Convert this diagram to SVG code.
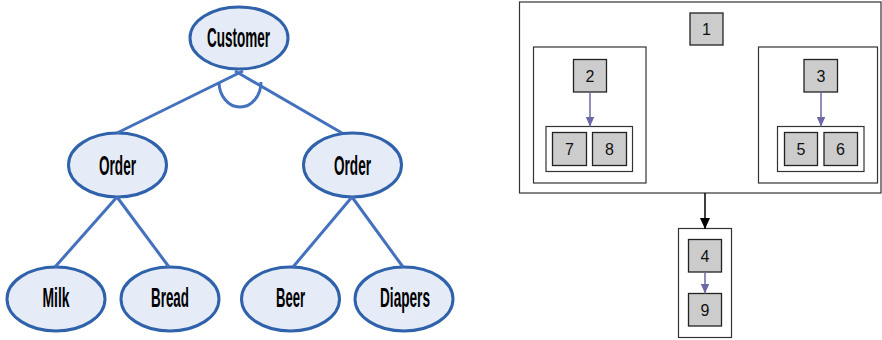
<svg xmlns="http://www.w3.org/2000/svg" width="882" height="340" viewBox="0 0 882 340">
<style>
.ell{fill:#e6ecf7;stroke:#2f62aa;stroke-width:3}
.lnk{fill:none;stroke:#4471bd;stroke-width:3}
.lbl{font-family:"Liberation Sans Narrow","Liberation Sans",Arial,sans-serif;font-weight:bold;font-size:27px;fill:#000;text-anchor:middle}
.box{fill:#cccccc;stroke:#222;stroke-width:1.3}
.cont{fill:#fff;stroke:#333;stroke-width:1.2}
.num{font-family:"Liberation Sans",Arial,sans-serif;font-size:16px;fill:#111;text-anchor:middle}
.parr{stroke:#6b68a6;stroke-width:1.5;fill:none}
</style>
<defs>
<marker id="ap" markerWidth="10" markerHeight="9" refX="10" refY="4.5" orient="auto" markerUnits="userSpaceOnUse">
<path d="M0,0 L10,4.5 L0,9 Z" fill="#6b68a6"/>
</marker>
<marker id="ab" markerWidth="11" markerHeight="10" refX="11" refY="5" orient="auto" markerUnits="userSpaceOnUse">
<path d="M0,0 L11,5 L0,10 Z" fill="#000"/>
</marker>
</defs>
<rect width="882" height="340" fill="#fff"/>
<g id="customer"><ellipse class="ell" cx="239" cy="38" rx="49" ry="31"/><text class="lbl" x="238.5" y="47" textLength="63" lengthAdjust="spacingAndGlyphs">Customer</text></g>
<g id="order1"><ellipse class="ell" cx="117.5" cy="165" rx="49" ry="32"/><text class="lbl" x="117.5" y="175" textLength="37" lengthAdjust="spacingAndGlyphs">Order</text></g>
<g id="order2"><ellipse class="ell" cx="352.5" cy="165" rx="49" ry="32"/><text class="lbl" x="352.5" y="175" textLength="37" lengthAdjust="spacingAndGlyphs">Order</text></g>
<g id="milk"><ellipse class="ell" cx="56" cy="299" rx="49" ry="32"/><text class="lbl" x="56" y="307" textLength="27" lengthAdjust="spacingAndGlyphs">Milk</text></g>
<g id="bread"><ellipse class="ell" cx="170" cy="299" rx="49" ry="32"/><text class="lbl" x="170" y="307" textLength="38" lengthAdjust="spacingAndGlyphs">Bread</text></g>
<g id="beer"><ellipse class="ell" cx="290.5" cy="299" rx="49" ry="32"/><text class="lbl" x="290.5" y="307" textLength="29" lengthAdjust="spacingAndGlyphs">Beer</text></g>
<g id="diapers"><ellipse class="ell" cx="404" cy="299" rx="49" ry="32"/><text class="lbl" x="405" y="307" textLength="50" lengthAdjust="spacingAndGlyphs">Diapers</text></g>

<g id="outer"><rect class="cont" x="519.5" y="2" width="361.5" height="191" fill="none"/></g>
<g id="n1"><rect class="box" x="690" y="13" width="33" height="32"/><text class="num" x="706.5" y="35">1</text></g>
<g id="leftgroup"><rect class="cont" x="533.5" y="47" width="112.5" height="136"/></g>
<g id="n2"><rect class="box" x="573.5" y="59.5" width="33" height="32.5"/><text class="num" x="590" y="81.5">2</text></g>
<g id="g78"><rect class="cont" x="546" y="126.5" width="86.5" height="45"/></g>
<g id="n7"><rect class="box" x="552.5" y="132.5" width="34" height="33"/><text class="num" x="569.5" y="155">7</text></g>
<g id="n8"><rect class="box" x="592.5" y="132.5" width="34" height="33"/><text class="num" x="609.5" y="155">8</text></g>
<g id="rightgroup"><rect class="cont" x="758.5" y="47" width="119" height="136"/></g>
<g id="n3"><rect class="box" x="804" y="59.5" width="33.5" height="32.5"/><text class="num" x="821" y="81.5">3</text></g>
<g id="g56"><rect class="cont" x="777.5" y="126.5" width="86.5" height="45"/></g>
<g id="n5"><rect class="box" x="784.5" y="132.5" width="33" height="33"/><text class="num" x="801" y="155">5</text></g>
<g id="n6"><rect class="box" x="824" y="132.5" width="33.5" height="33"/><text class="num" x="840.5" y="155">6</text></g>
<g id="g49"><rect class="cont" x="678.5" y="228.5" width="53" height="109"/></g>
<g id="n4"><rect class="box" x="688.5" y="239.5" width="33" height="32.5"/><text class="num" x="705" y="261.5">4</text></g>
<g id="n9"><rect class="box" x="688.5" y="293.5" width="33" height="32.5"/><text class="num" x="705" y="315.5">9</text></g>

<g id="connectors">
<line class="lnk" x1="243" y1="71" x2="117" y2="133"/>
<line class="lnk" x1="235" y1="71" x2="342" y2="133"/>
<path class="lnk" d="M219,82 A21,25 0 0 0 261,82"/>
<line class="lnk" x1="117" y1="197" x2="55" y2="267"/>
<line class="lnk" x1="117" y1="197" x2="169" y2="267"/>
<line class="lnk" x1="352" y1="197" x2="293" y2="267"/>
<line class="lnk" x1="352" y1="197" x2="403" y2="267"/>
<line class="parr" x1="590" y1="92" x2="590" y2="126.5" marker-end="url(#ap)"/>
<line class="parr" x1="821" y1="92" x2="821" y2="126.5" marker-end="url(#ap)"/>
<line class="parr" x1="705" y1="272" x2="705" y2="293.5" marker-end="url(#ap)"/>
<line stroke="#000" stroke-width="1.5" x1="705" y1="193" x2="705" y2="229" marker-end="url(#ab)"/>
</g>
</svg>
